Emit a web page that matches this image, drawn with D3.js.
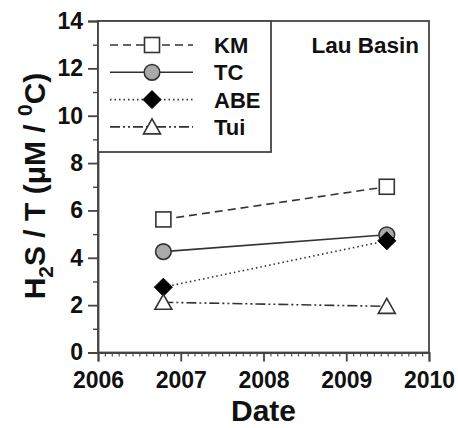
<!DOCTYPE html>
<html><head><meta charset="utf-8">
<script src="https://cdn.jsdelivr.net/npm/d3@7"></script>
<style>body{margin:0;background:#fff}svg{display:block}text{font-family:"Liberation Sans",Arial,sans-serif;font-weight:bold;fill:#111}</style>
</head><body><svg id="c" width="458" height="428"></svg>
<script>
const dates = [2006.79, 2009.49];
const seriesNames = ["KM", "TC", "ABE", "Tui"];
const kmValues = [5.62, 7.0];
const tcValues = [4.26, 4.97];
const abeValues = [2.76, 4.72];
const tuiValues = [2.12, 1.95];
const xTicks = [2006, 2007, 2008, 2009, 2010];
const yTicks = [0, 2, 4, 6, 8, 10, 12, 14];

const svg = d3.select("#c");
const L = 98, R = 429, T = 21, B = 352.5;
const x = d3.scaleLinear().domain([2006, 2010]).range([L, R]);
const y = d3.scaleLinear().domain([0, 14]).range([B, T]);
const axisColor = "#444";

const styles = [
  {name: "KM", vals: kmValues, dash: "8,5", shape: "square"},
  {name: "TC", vals: tcValues, dash: null, shape: "circle"},
  {name: "ABE", vals: abeValues, dash: "1.5,3", shape: "diamond"},
  {name: "Tui", vals: tuiValues, dash: "10,3,2,3,2,3", shape: "triangle"}
];

function marker(g, shape, cx, cy) {
  if (shape === "square") {
    g.append("rect").attr("x", cx - 7.5).attr("y", cy - 7.5).attr("width", 15).attr("height", 15)
      .attr("fill", "#fff").attr("stroke", "#333").attr("stroke-width", 1.6);
  } else if (shape === "circle") {
    g.append("circle").attr("cx", cx).attr("cy", cy).attr("r", 7.8)
      .attr("fill", "#aaa").attr("stroke", "#333").attr("stroke-width", 1.6);
  } else if (shape === "diamond") {
    g.append("path").attr("d", `M${cx},${cy-9}L${cx+9},${cy}L${cx},${cy+9}L${cx-9},${cy}Z`)
      .attr("fill", "#000").attr("stroke", "#000").attr("stroke-width", 1);
  } else {
    g.append("path").attr("d", `M${cx},${cy-8}L${cx+8.5},${cy+7}L${cx-8.5},${cy+7}Z`)
      .attr("fill", "#fff").attr("stroke", "#333").attr("stroke-width", 1.6);
  }
}

// frame
svg.append("rect").attr("x", L).attr("y", T).attr("width", R - L).attr("height", B - T)
  .attr("fill", "none").attr("stroke", axisColor).attr("stroke-width", 1.8);

// x axis
const xMinor = d3.range(2006, 2010.0001, 1/12).filter(v => Math.abs(v - Math.round(v)) > 1e-6);
svg.append("g").attr("transform", `translate(0,${B})`)
  .call(d3.axisBottom(x).tickValues(xMinor).tickSize(4).tickFormat(""))
  .call(g => { g.select(".domain").remove(); g.selectAll("line").attr("stroke", "#555").attr("stroke-width", 1.2); });
const xa = svg.append("g").attr("transform", `translate(0,${B})`)
  .call(d3.axisBottom(x).tickValues(xTicks).tickSize(9).tickPadding(10).tickFormat(d3.format("d")));
xa.select(".domain").attr("stroke", axisColor).attr("stroke-width", 1.8);
xa.selectAll("line").attr("stroke", axisColor).attr("stroke-width", 1.8);
xa.selectAll("text").style("font-size", "23px").attr("fill", "#111");

// y axis
const yMinor = d3.range(1, 14, 2);
svg.append("g").attr("transform", `translate(${L},0)`)
  .call(d3.axisLeft(y).tickValues(yMinor).tickSize(5).tickFormat(""))
  .call(g => { g.select(".domain").remove(); g.selectAll("line").attr("stroke", axisColor).attr("stroke-width", 1.4); });
const ya = svg.append("g").attr("transform", `translate(${L},0)`)
  .call(d3.axisLeft(y).tickValues(yTicks).tickSize(10).tickPadding(5));
ya.select(".domain").attr("stroke", axisColor).attr("stroke-width", 1.8);
ya.selectAll("line").attr("stroke", axisColor).attr("stroke-width", 1.8);
ya.selectAll("text").style("font-size", "23px").attr("fill", "#111");

// series
const plot = svg.append("g");
styles.forEach(s => {
  const pts = dates.map((d, i) => [x(d), y(s.vals[i])]);
  plot.append("path").attr("d", d3.line()(pts)).attr("fill", "none")
    .attr("stroke", "#333").attr("stroke-width", 1.6).attr("stroke-dasharray", s.dash);
});
styles.forEach(s => {
  dates.forEach((d, i) => marker(plot, s.shape, x(d), y(s.vals[i])));
});

// legend
const lg = svg.append("g");
lg.append("rect").attr("x", L).attr("y", T).attr("width", 173).attr("height", 131)
  .attr("fill", "#fff").attr("stroke", axisColor).attr("stroke-width", 1.8);
styles.forEach((s, i) => {
  const cy = 45 + i * 27.3;
  lg.append("line").attr("x1", 110).attr("x2", 193).attr("y1", cy).attr("y2", cy)
    .attr("stroke", "#333").attr("stroke-width", 1.6).attr("stroke-dasharray", s.dash);
  marker(lg, s.shape, 152, cy);
  lg.append("text").attr("x", 214).attr("y", cy + 8).style("font-size", "22px").text(seriesNames[i]);
});

svg.append("text").attr("x", 419).attr("y", 53).attr("text-anchor", "end").style("font-size", "22.5px").text("Lau Basin");

// axis titles
svg.append("text").attr("x", (L + R) / 2).attr("y", 421).attr("text-anchor", "middle")
  .style("font-size", "30px").text("Date");
const yt = svg.append("text").attr("transform", "translate(45,186) rotate(-90)")
  .attr("text-anchor", "middle").style("font-size", "30px");
yt.append("tspan").text("H");
yt.append("tspan").attr("dy", 8).style("font-size", "21px").text("2");
yt.append("tspan").attr("dy", -8).text("S / T (μM / ");
yt.append("tspan").attr("dy", -13).style("font-size", "21px").text("0");
yt.append("tspan").attr("dy", 13).text("C)");
</script></body></html>
